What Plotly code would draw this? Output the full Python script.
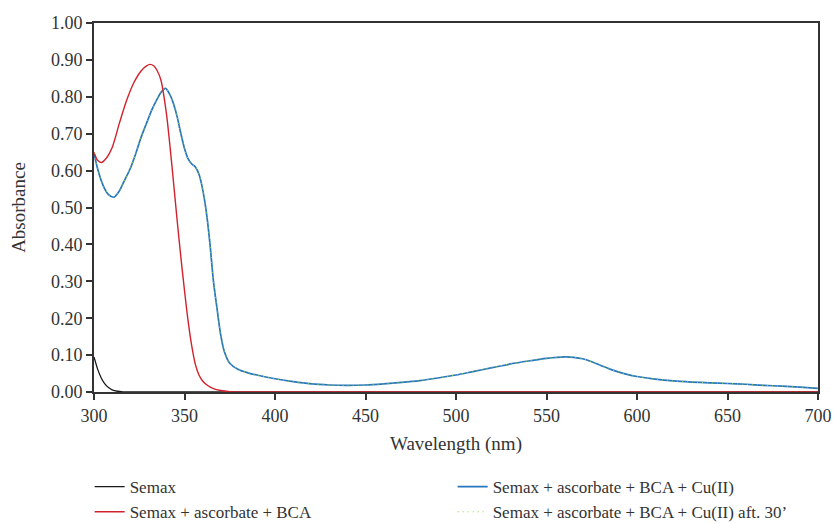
import plotly.graph_objects as go

# ---- data ----
wl_semax = [300, 302, 304, 306, 308, 310, 313, 316, 320, 350, 400, 500, 600, 700]
abs_semax = [0.095, 0.062, 0.038, 0.022, 0.012, 0.006, 0.002, 0.0005, 0, 0, 0, 0, 0, 0]

wl_bca = [300, 302, 304, 307, 310, 314, 318, 322, 326, 329, 331, 333, 335, 337, 340,
          342, 344, 346, 348, 350, 352, 354, 356, 358, 360, 363, 366, 370, 375, 380,
          400, 500, 600, 700]
abs_bca = [0.650, 0.628, 0.622, 0.635, 0.662, 0.728, 0.790, 0.838, 0.870, 0.884, 0.888,
           0.884, 0.870, 0.845, 0.755, 0.665, 0.565, 0.462, 0.365, 0.275, 0.192, 0.125,
           0.075, 0.046, 0.030, 0.017, 0.009, 0.004, 0.001, 0, 0, 0, 0, 0]

wl_cu = [300, 302, 305, 308, 311, 314, 317, 320, 323, 326, 329, 332, 335, 337, 339.5,
         342, 344, 346, 348, 350, 352, 354, 356, 358, 360, 362, 364, 366, 368, 370, 372,
         375, 380, 385, 390, 400, 410, 420, 430, 440, 450, 460, 470, 480, 490, 500, 510,
         520, 530, 540, 550, 560, 565, 570, 575, 580, 585, 590, 595, 600, 610, 620, 630,
         640, 650, 660, 670, 680, 690, 700]
abs_cu = [0.648, 0.605, 0.560, 0.535, 0.528, 0.545, 0.575, 0.605, 0.645, 0.690, 0.728,
          0.765, 0.795, 0.812, 0.823, 0.805, 0.780, 0.745, 0.700, 0.660, 0.632, 0.618,
          0.610, 0.590, 0.550, 0.490, 0.405, 0.300, 0.225, 0.155, 0.110, 0.078, 0.060,
          0.052, 0.046, 0.036, 0.028, 0.022, 0.019, 0.018, 0.019, 0.022, 0.026, 0.031,
          0.038, 0.046, 0.056, 0.066, 0.076, 0.084, 0.091, 0.095, 0.094, 0.090, 0.082,
          0.072, 0.062, 0.054, 0.047, 0.042, 0.035, 0.030, 0.027, 0.025, 0.023, 0.021,
          0.018, 0.016, 0.013, 0.010]

# after 30 min: overlaps the Cu(II) spectrum
wl_cu30 = wl_cu
abs_cu30 = abs_cu

names = ["Semax", "Semax + ascorbate + BCA", "Semax + ascorbate + BCA + Cu(II)",
         "Semax + ascorbate + BCA + Cu(II) aft. 30\u2019"]

x_ticks = [300, 350, 400, 450, 500, 550, 600, 650, 700]
y_ticks = [0.0, 0.1, 0.2, 0.3, 0.4, 0.5, 0.6, 0.7, 0.8, 0.9, 1.0]

FONT = "Liberation Serif"
FS = 18
FL = 17
FT = 19

fig = go.Figure()
fig.add_trace(go.Scatter(x=wl_semax, y=abs_semax, mode="lines", name=names[0],
                         line=dict(color="#1a1a1a", width=1.3, shape="spline", smoothing=0.6),
                         legendrank=1))
fig.add_trace(go.Scatter(x=wl_cu, y=abs_cu, mode="lines", name=names[2],
                         line=dict(color="#2677bd", width=1.7, shape="spline", smoothing=0.8),
                         legendrank=2))
fig.add_trace(go.Scatter(x=wl_bca, y=abs_bca, mode="lines", name=names[1],
                         line=dict(color="#d0222c", width=1.4, shape="spline", smoothing=0.8),
                         legendrank=3))
fig.add_trace(go.Scatter(x=wl_cu30, y=abs_cu30, mode="lines", name=names[3],
                         line=dict(color="#9ad04a", width=1, dash="1px,4px", shape="spline", smoothing=0.8),
                         legendrank=4))

fig.update_layout(
    width=833, height=524,
    margin=dict(l=94, r=15, t=23, b=132, autoexpand=False),
    paper_bgcolor="white", plot_bgcolor="white",
    font=dict(family=FONT, size=FS, color="#333333"),
    showlegend=True,
    legend=dict(orientation="h", x=-0.006, xanchor="left", y=-0.209, yanchor="top",
                entrywidth=318, entrywidthmode="pixels",
                font=dict(family=FONT, size=FL, color="#333333"),
                bgcolor="rgba(0,0,0,0)", tracegroupgap=0),
    xaxis=dict(range=[300, 700], tickvals=x_ticks, ticktext=[str(v) for v in x_ticks],
               showgrid=False, zeroline=False, showline=True, linecolor="#333333",
               linewidth=2, mirror=True, ticks="outside", ticklen=6, tickwidth=1.5,
               tickcolor="#333333",
               title=dict(text="Wavelength (nm)", standoff=12,
                          font=dict(family=FONT, size=FT, color="#333333"))),
    yaxis=dict(range=[0, 1.0], tickvals=y_ticks, ticktext=[f"{v:.2f}" for v in y_ticks],
               showgrid=False, zeroline=False, showline=True, linecolor="#333333",
               linewidth=2, mirror=True, ticks="outside", ticklen=6, tickwidth=1.5,
               tickcolor="#333333",
               title=dict(text="Absorbance", standoff=20,
                          font=dict(family=FONT, size=FT, color="#333333"))),
)

fig.write_html("out.html", config={"displayModeBar": False},
               post_script="document.body.style.margin='0';document.body.style.overflow='hidden';")
